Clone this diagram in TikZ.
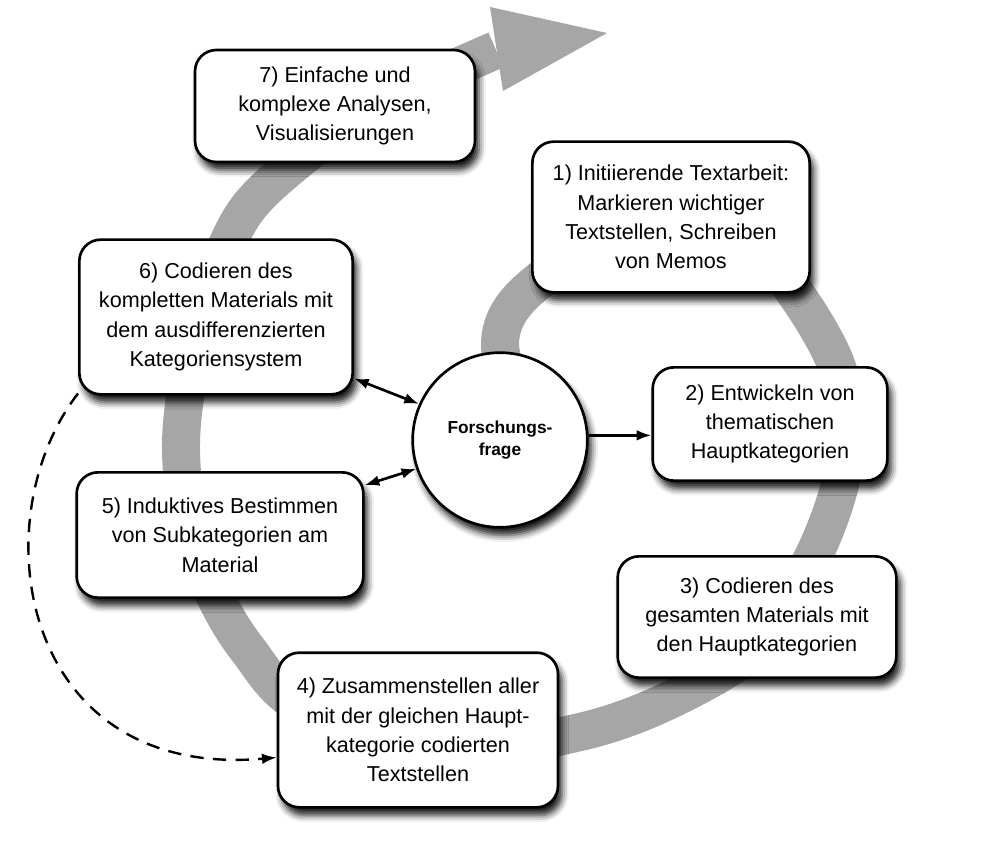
\documentclass[tikz,border=0pt]{standalone}
\usepackage{fontspec}
\setmainfont{Liberation Sans}
\usepackage{tikz}
\usetikzlibrary{arrows.meta,shadows.blur}
\definecolor{spiralgray}{RGB}{166,166,166}

\begin{document}
\begin{tikzpicture}[x=0.75pt,y=-0.75pt,>={Latex[length=11pt,width=8pt]},
                phase/.style={draw,line width=2pt,rounded corners=16pt,fill=white,
                    align=center,inner sep=2pt,font=\fontsize{16.2}{22}\selectfont,
                    blur shadow={shadow xshift=3pt,shadow yshift=-6pt,
                        shadow blur radius=5pt,shadow opacity=90}},
                frage/.style={circle,draw,line width=2pt,fill=white,align=center,
                    minimum size=131pt,font=\fontsize{13}{16}\selectfont\bfseries,
                    blur shadow={shadow xshift=3pt,shadow yshift=-6pt,
                        shadow blur radius=5pt,shadow opacity=90}},
                spiral/.style={draw=spiralgray,line width=28.5pt},
                link/.style={line width=2pt}]
                \useasboundingbox (0,0) rectangle (982,845);

                % the grey spiral behind the steps
                \draw[spiral] plot[smooth,tension=0.55] coordinates {
                    (520,410) (500,345) (520,298) (590,248) (670,232) (755,250)
                    (800,300) (838,370) (845,440) (838,492) (813,557) (765,640)
                    (680,695) (580,732) (430,752) (300,705) (248,650) (216,598)
                    (190,530) (181,450) (188,380) (210,290) (245,212) (305,155)
                    (380,102) (455,68) (496,50)};
                \fill[spiralgray] (490,7) -- (607,33) -- (503,91) -- cycle;

                % Define the steps as nodes
                \node[phase,minimum width=210pt,minimum height=84pt] (s7) at (335,106)
                    {7) Einfache und\\komplexe Analysen,\\Visualisierungen};
                \node[phase,minimum width=208pt,minimum height=113pt] (s1) at (671,217)
                    {1) Initiierende Textarbeit:\\Markieren wichtiger\\Textstellen, Schreiben\\von Memos};
                \node[phase,minimum width=205pt,minimum height=116pt] (s6) at (216,317)
                    {6) Codieren des\\kompletten Materials mit\\dem ausdifferenzierten\\Kategoriensystem};
                \node[phase,minimum width=176pt,minimum height=85pt] (s2) at (770,424)
                    {2) Entwickeln von\\thematischen\\Hauptkategorien};
                \node[phase,minimum width=215pt,minimum height=94pt] (s5) at (220,535)
                    {5) Induktives Bestimmen\\von Subkategorien am\\Material};
                \node[phase,minimum width=209pt,minimum height=91pt] (s3) at (757,617)
                    {3) Codieren des\\gesamten Materials mit\\den Hauptkategorien};
                \node[phase,minimum width=210pt,minimum height=116pt] (s4) at (418,730)
                    {4) Zusammenstellen aller\\mit der gleichen Haupt-\\kategorie codierten\\Textstellen};
                \node[frage] (ff) at (500,440) {Forschungs-\\frage};

                % Connect the question with the steps
                \draw[link,<->] (s6.-24) -- (ff.156);
                \draw[link,<->] (s5.19) -- (ff.199);
                \draw[link,->] (ff.3) -- (ff.3 -| s2.west);
                \draw[link,->,line width=1.8pt,dash pattern=on 10pt off 7pt] (s6.209)
                    .. controls (-20,520) and (20,780) .. (s4.191);

            \end{tikzpicture}
\end{document}
